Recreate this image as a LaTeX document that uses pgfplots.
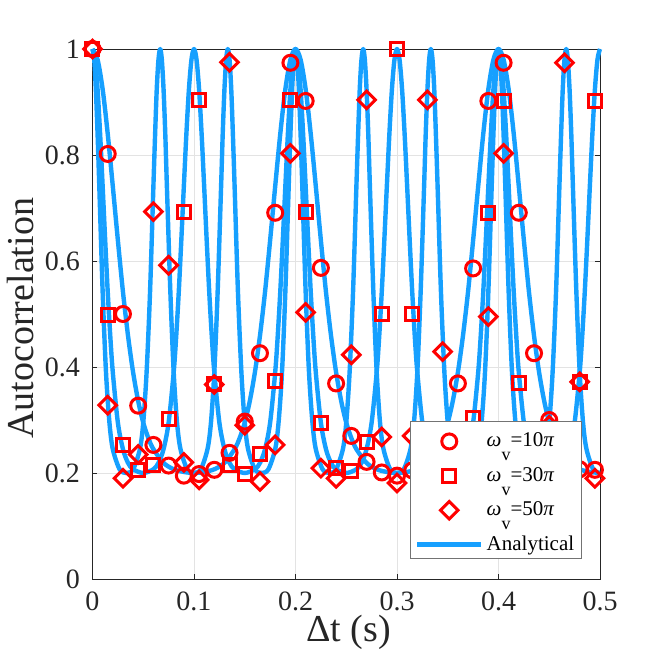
\documentclass[border=0pt]{standalone}
\usepackage{pgfplots}
\pgfplotsset{compat=1.18}
\usepackage{pgfplotstable}
\usepackage{fontspec}
\setmainfont{Liberation Serif}
\definecolor{anblue}{RGB}{22,160,255}
\definecolor{axgray}{RGB}{38,38,38}
\pgfplotsset{
  markleg/.style={legend image code/.code={\path[draw=none,fill=none] (0pt,-8.5pt) rectangle (64pt,8.5pt);
    \draw[##1] plot coordinates {(32pt,-3pt)};}},
  lineleg/.style={legend image code/.code={\path[draw=none,fill=none] (0pt,-8.5pt) rectangle (64pt,8.5pt);
    \draw[##1] (0pt,-3pt) -- (64pt,-3pt);}},
}

\pgfplotstableread{
t c s d
0.000 1.000 1.000 1.000
0.015 0.802 0.498 0.328
0.030 0.500 0.253 0.190
0.045 0.327 0.205 0.235
0.060 0.253 0.215 0.693
0.075 0.214 0.301 0.592
0.090 0.195 0.693 0.220
0.105 0.198 0.904 0.187
0.120 0.206 0.367 0.367
0.135 0.238 0.215 0.975
0.150 0.297 0.199 0.290
0.165 0.426 0.235 0.184
0.180 0.691 0.374 0.253
0.195 0.974 0.904 0.803
0.210 0.902 0.693 0.503
0.225 0.587 0.295 0.209
0.240 0.369 0.210 0.190
0.255 0.270 0.203 0.423
0.270 0.221 0.259 0.904
0.285 0.201 0.500 0.268
0.300 0.195 1.000 0.181
0.315 0.205 0.500 0.270
0.330 0.215 0.250 0.904
0.345 0.262 0.205 0.429
0.360 0.369 0.208 0.205
0.375 0.586 0.303 0.212
0.390 0.902 0.691 0.495
0.405 0.974 0.902 0.803
0.420 0.691 0.369 0.250
0.435 0.426 0.215 0.200
0.450 0.300 0.200 0.290
0.465 0.225 0.215 0.974
0.480 0.207 0.372 0.372
0.495 0.206 0.902 0.190
}\markdata

\begin{document}
\begin{tikzpicture}
\begin{axis}[
  at={(0pt,0pt)}, anchor=south west,
  scale only axis, width=507.5pt, height=530pt,
  xmin=0, xmax=0.5, ymin=0, ymax=1,
  xtick={0,0.1,0.2,0.3,0.4,0.5},
  ytick={0,0.2,0.4,0.6,0.8,1},
  tick align=inside, major tick length=5pt,
  axis line style={axgray, line width=0.9pt},
  tick style={axgray, line width=0.9pt},
  grid=major, grid style={black!11, line width=0.9pt},
  clip=false,
  /pgf/number format/assume math mode=true,
  ticklabel style={font=\fontsize{28}{30}\selectfont, text=axgray},
  yticklabel style={inner sep=0pt, xshift=-12.5pt},
  xticklabel style={inner sep=0pt, yshift=-13pt},
  xlabel={Δt (s)}, ylabel={Autocorrelation},
  label style={font=\fontsize{38}{40}\selectfont, text=axgray},
  xlabel style={at={(axis description cs:0.505,0)}, anchor=base, yshift=-62pt},
  ylabel style={at={(axis description cs:-0.1153,0.492)}, anchor=base},
  legend cell align=left,
  legend style={at={(axis description cs:0.9651,0.0372)}, anchor=south east,
    draw=black!55, line width=0.9pt, fill=white, inner xsep=4.5pt, inner ysep=0pt,
    font=\fontsize{21}{24}\selectfont, row sep=0pt, column sep=0pt,
    nodes={inner xsep=3.2pt, inner ysep=3.7pt, text height=22pt, text depth=5pt}},
]
\addplot[only marks, mark=o, mark size=7.5pt, red, markleg,
  mark options={line width=3pt, solid}] table[x=t, y=c] {\markdata};
\addlegendentry{\textit{ω}\raisebox{-14pt}{\fontsize{18}{18}\selectfont v}=10\textit{π}}
\addplot[only marks, mark=square, mark size=6.5pt, red, markleg,
  mark options={line width=3pt, solid, line join=miter}] table[x=t, y=s] {\markdata};
\addlegendentry{\textit{ω}\raisebox{-14pt}{\fontsize{18}{18}\selectfont v}=30\textit{π}}
\addplot[only marks, mark=square, mark size=6.2pt, red, markleg,
  mark options={line width=3pt, solid, line join=miter, rotate=45}] table[x=t, y=d] {\markdata};
\addlegendentry{\textit{ω}\raisebox{-14pt}{\fontsize{18}{18}\selectfont v}=50\textit{π}}

% analytical, period 0.2
\addplot[anblue, line width=4.4pt, smooth, line join=round, lineleg] coordinates {
(0,1.000) (0.005,0.980) (0.010,0.924) (0.015,0.840) (0.020,0.741) (0.025,0.639) (0.030,0.542) (0.035,0.459) (0.040,0.390) (0.045,0.336) (0.050,0.295) (0.055,0.266) (0.060,0.245) (0.070,0.219) (0.080,0.207) (0.090,0.202) (0.100,0.200) (0.110,0.202) (0.120,0.207) (0.130,0.219) (0.140,0.245) (0.145,0.266) (0.150,0.295) (0.155,0.336) (0.160,0.390) (0.165,0.459) (0.170,0.542) (0.175,0.639) (0.180,0.741) (0.185,0.840) (0.190,0.924) (0.195,0.980) (0.200,1.000)
(0.205,0.980) (0.210,0.924) (0.215,0.840) (0.220,0.741) (0.225,0.639) (0.230,0.542) (0.235,0.459) (0.240,0.390) (0.245,0.336) (0.250,0.295) (0.255,0.266) (0.260,0.245) (0.270,0.219) (0.280,0.207) (0.290,0.202) (0.300,0.200) (0.310,0.202) (0.320,0.207) (0.330,0.219) (0.340,0.245) (0.345,0.266) (0.350,0.295) (0.355,0.336) (0.360,0.390) (0.365,0.459) (0.370,0.542) (0.375,0.639) (0.380,0.741) (0.385,0.840) (0.390,0.924) (0.395,0.980) (0.400,1.000)
(0.405,0.980) (0.410,0.924) (0.415,0.840) (0.420,0.741) (0.425,0.639) (0.430,0.542) (0.435,0.459) (0.440,0.390) (0.445,0.336) (0.450,0.295) (0.455,0.266) (0.460,0.245) (0.470,0.219) (0.480,0.207) (0.490,0.202) (0.500,0.200)
};
\addlegendentry{Analytical}

% analytical, period 0.1
\addplot[anblue, line width=4.4pt, smooth, line join=round, forget plot] coordinates {
(0,1.000) (0.0025,0.980) (0.0050,0.924) (0.0075,0.840) (0.0100,0.741) (0.0125,0.639) (0.0150,0.542) (0.0175,0.459) (0.0200,0.390) (0.0250,0.295) (0.0300,0.245) (0.0350,0.219) (0.0400,0.207) (0.0500,0.200) (0.0600,0.207) (0.0650,0.219) (0.0700,0.245) (0.0750,0.295) (0.0800,0.390) (0.0825,0.459) (0.0850,0.542) (0.0875,0.639) (0.0900,0.741) (0.0925,0.840) (0.0950,0.924) (0.0975,0.980) (0.1000,1.000)
(0.1025,0.980) (0.1050,0.924) (0.1075,0.840) (0.1100,0.741) (0.1125,0.639) (0.1150,0.542) (0.1175,0.459) (0.1200,0.390) (0.1250,0.295) (0.1300,0.245) (0.1350,0.219) (0.1400,0.207) (0.1500,0.200) (0.1600,0.207) (0.1650,0.219) (0.1700,0.245) (0.1750,0.295) (0.1800,0.390) (0.1825,0.459) (0.1850,0.542) (0.1875,0.639) (0.1900,0.741) (0.1925,0.840) (0.1950,0.924) (0.1975,0.980) (0.2000,1.000)
(0.2025,0.980) (0.2050,0.924) (0.2075,0.840) (0.2100,0.741) (0.2125,0.639) (0.2150,0.542) (0.2175,0.459) (0.2200,0.390) (0.2250,0.295) (0.2300,0.245) (0.2350,0.219) (0.2400,0.207) (0.2500,0.200) (0.2600,0.207) (0.2650,0.219) (0.2700,0.245) (0.2750,0.295) (0.2800,0.390) (0.2825,0.459) (0.2850,0.542) (0.2875,0.639) (0.2900,0.741) (0.2925,0.840) (0.2950,0.924) (0.2975,0.980) (0.3000,1.000)
(0.3025,0.980) (0.3050,0.924) (0.3075,0.840) (0.3100,0.741) (0.3125,0.639) (0.3150,0.542) (0.3175,0.459) (0.3200,0.390) (0.3250,0.295) (0.3300,0.245) (0.3350,0.219) (0.3400,0.207) (0.3500,0.200) (0.3600,0.207) (0.3650,0.219) (0.3700,0.245) (0.3750,0.295) (0.3800,0.390) (0.3825,0.459) (0.3850,0.542) (0.3875,0.639) (0.3900,0.741) (0.3925,0.840) (0.3950,0.924) (0.3975,0.980) (0.4000,1.000)
(0.4025,0.980) (0.4050,0.924) (0.4075,0.840) (0.4100,0.741) (0.4125,0.639) (0.4150,0.542) (0.4175,0.459) (0.4200,0.390) (0.4250,0.295) (0.4300,0.245) (0.4350,0.219) (0.4400,0.207) (0.4500,0.200) (0.4600,0.207) (0.4650,0.219) (0.4700,0.245) (0.4750,0.295) (0.4800,0.390) (0.4825,0.459) (0.4850,0.542) (0.4875,0.639) (0.4900,0.741) (0.4925,0.840) (0.4950,0.924) (0.4975,0.980) (0.5000,1.000)
};

% analytical, period 1/15
\addplot[anblue, line width=4.4pt, smooth, line join=round, forget plot] coordinates {
(0,1.000) (0.0017,0.980) (0.0033,0.924) (0.0050,0.840) (0.0067,0.741) (0.0100,0.542) (0.0133,0.390) (0.0167,0.295) (0.0200,0.245) (0.0267,0.207) (0.0333,0.200) (0.0400,0.207) (0.0467,0.245) (0.0500,0.295) (0.0533,0.390) (0.0567,0.542) (0.0600,0.741) (0.0617,0.840) (0.0633,0.924) (0.0650,0.980) (0.0667,1.000)
(0.0683,0.980) (0.0700,0.924) (0.0717,0.840) (0.0733,0.741) (0.0767,0.542) (0.0800,0.390) (0.0833,0.295) (0.0867,0.245) (0.0933,0.207) (0.1000,0.200) (0.1067,0.207) (0.1133,0.245) (0.1167,0.295) (0.1200,0.390) (0.1233,0.542) (0.1267,0.741) (0.1283,0.840) (0.1300,0.924) (0.1317,0.980) (0.1333,1.000)
(0.1350,0.980) (0.1367,0.924) (0.1383,0.840) (0.1400,0.741) (0.1433,0.542) (0.1467,0.390) (0.1500,0.295) (0.1533,0.245) (0.1600,0.207) (0.1667,0.200) (0.1733,0.207) (0.1800,0.245) (0.1833,0.295) (0.1867,0.390) (0.1900,0.542) (0.1933,0.741) (0.1950,0.840) (0.1967,0.924) (0.1983,0.980) (0.2000,1.000)
(0.2017,0.980) (0.2033,0.924) (0.2050,0.840) (0.2067,0.741) (0.2100,0.542) (0.2133,0.390) (0.2167,0.295) (0.2200,0.245) (0.2267,0.207) (0.2333,0.200) (0.2400,0.207) (0.2467,0.245) (0.2500,0.295) (0.2533,0.390) (0.2567,0.542) (0.2600,0.741) (0.2617,0.840) (0.2633,0.924) (0.2650,0.980) (0.2667,1.000)
(0.2683,0.980) (0.2700,0.924) (0.2717,0.840) (0.2733,0.741) (0.2767,0.542) (0.2800,0.390) (0.2833,0.295) (0.2867,0.245) (0.2933,0.207) (0.3000,0.200) (0.3067,0.207) (0.3133,0.245) (0.3167,0.295) (0.3200,0.390) (0.3233,0.542) (0.3267,0.741) (0.3283,0.840) (0.3300,0.924) (0.3317,0.980) (0.3333,1.000)
(0.3350,0.980) (0.3367,0.924) (0.3383,0.840) (0.3400,0.741) (0.3433,0.542) (0.3467,0.390) (0.3500,0.295) (0.3533,0.245) (0.3600,0.207) (0.3667,0.200) (0.3733,0.207) (0.3800,0.245) (0.3833,0.295) (0.3867,0.390) (0.3900,0.542) (0.3933,0.741) (0.3950,0.840) (0.3967,0.924) (0.3983,0.980) (0.4000,1.000)
(0.4017,0.980) (0.4033,0.924) (0.4050,0.840) (0.4067,0.741) (0.4100,0.542) (0.4133,0.390) (0.4167,0.295) (0.4200,0.245) (0.4267,0.207) (0.4333,0.200) (0.4400,0.207) (0.4467,0.245) (0.4500,0.295) (0.4533,0.390) (0.4567,0.542) (0.4600,0.741) (0.4617,0.840) (0.4633,0.924) (0.4650,0.980) (0.4667,1.000)
(0.4683,0.980) (0.4700,0.924) (0.4717,0.840) (0.4733,0.741) (0.4767,0.542) (0.4800,0.390) (0.4833,0.295) (0.4867,0.245) (0.4933,0.207) (0.5000,0.200)
};
\end{axis}
\pgfresetboundingbox
\path[use as bounding box] (-92.5pt,-85pt) rectangle (571.5pt,579pt);
\end{tikzpicture}
\end{document}
